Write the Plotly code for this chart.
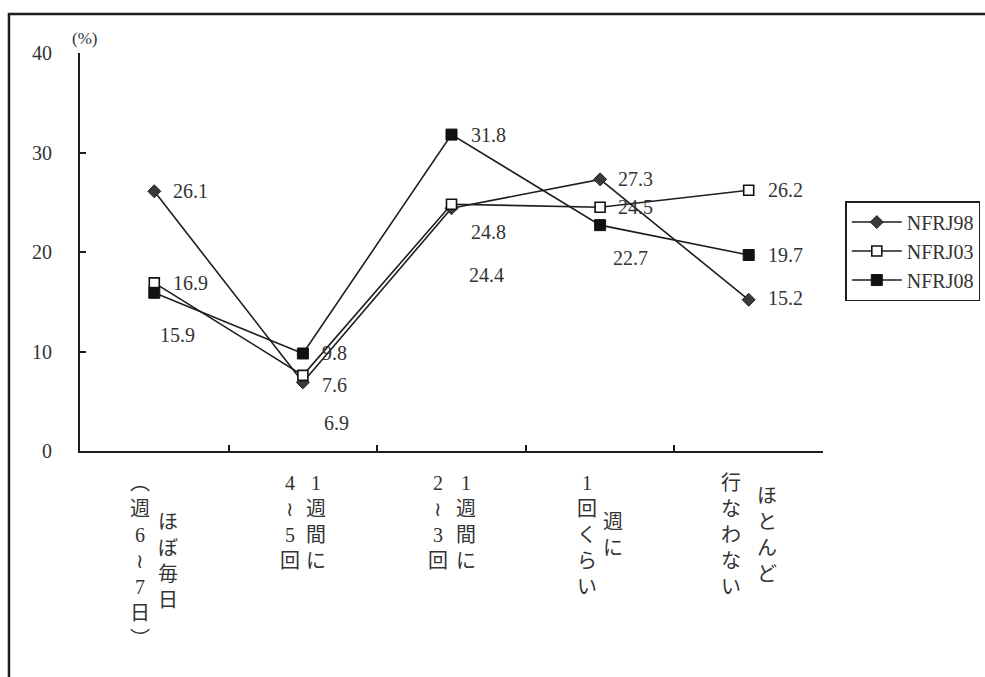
import plotly.graph_objects as go

# Frequency categories (x axis) and the two vertical text columns for each label
categories = ["ほぼ毎日（週6～7日）", "1週間に4～5回", "1週間に2～3回", "週に1回くらい", "ほとんど行なわない"]
label_right_cols = ["ほぼ毎日", "1週間に", "1週間に", "週に", "ほとんど"]
label_left_cols = ["︵週6≀7日︶", "4≀5回", "2≀3回", "1回くらい", "行なわない"]

series_names = ["NFRJ98", "NFRJ03", "NFRJ08"]
nfrj98 = [26.1, 6.9, 24.4, 27.3, 15.2]
nfrj03 = [16.9, 7.6, 24.8, 24.5, 26.2]
nfrj08 = [15.9, 9.8, 31.8, 22.7, 19.7]

y_ticks = [0, 10, 20, 30, 40]

FONT = "'Liberation Serif', 'Times New Roman', 'DejaVu Serif', 'Noto Sans CJK JP', serif"
INK = "#1e1e1e"
TXT = "#333333"

styles = {
    "NFRJ98": dict(symbol="diamond", size=10, color="#3a3a3a", line=dict(color="#222", width=1)),
    "NFRJ03": dict(symbol="square", size=10, color="white", line=dict(color="#111", width=1.6)),
    "NFRJ08": dict(symbol="square", size=11, color="#111", line=dict(color="#111", width=1)),
}

# pixel offsets of each value label from its point (x right, y up)
label_offsets = {
    "NFRJ98": [(17, 0), (19, -41), (15, -67), (16, 0), (17, 2)],
    "NFRJ03": [(17, 0), (17, -10), (17, -28), (16, 0), (17, 0)],
    "NFRJ08": [(4, -42), (17, 0), (17, 0), (11, -33), (17, 0)],
}

fig = go.Figure()
annotations = []
for name, vals in zip(series_names, [nfrj98, nfrj03, nfrj08]):
    fig.add_trace(go.Scatter(
        x=categories, y=vals, name=name, mode="lines+markers",
        line=dict(color=INK, width=1.6),
        marker=styles[name],
    ))
    for cat, v, (dx, dy) in zip(categories, vals, label_offsets[name]):
        annotations.append(dict(
            x=cat, y=v, xref="x", yref="y", text=f"{v:.1f}", showarrow=False,
            xanchor="left", yanchor="middle", xshift=dx, yshift=dy,
            font=dict(family=FONT, size=20, color=TXT),
        ))

# vertical category labels, two columns each, read right to left
PITCH = 26
col_gap = [14, 13, 14, 13, 18]
for i, cat in enumerate(categories):
    right, left = label_right_cols[i], label_left_cols[i]
    block = max(len(right), len(left)) * PITCH
    for col, sign in ((right, 1), (left, -1)):
        annotations.append(dict(
            x=cat, y=0, xref="x", yref="paper", text="<br>".join(col), showarrow=False,
            xanchor="center", yanchor="middle", xshift=sign * col_gap[i],
            yshift=-(19 + block / 2),
            font=dict(family=FONT, size=20, color=TXT),
        ))

annotations.append(dict(
    x=0, y=1, xref="paper", yref="paper", text="(%)", showarrow=False,
    xanchor="center", yanchor="middle", xshift=4, yshift=15,
    font=dict(family=FONT, size=17, color=TXT),
))

fig.update_layout(
    width=985, height=677,
    margin=dict(l=80, r=162, t=53, b=226, autoexpand=False),
    paper_bgcolor="white", plot_bgcolor="white",
    font=dict(family=FONT, size=20, color=TXT),
    showlegend=True,
    legend=dict(
        x=1.03, y=0.628, xanchor="left", yanchor="top",
        bgcolor="white", bordercolor=INK, borderwidth=1.5,
        font=dict(family=FONT, size=20, color=TXT),
        itemwidth=50, tracegroupgap=0,
    ),
    xaxis=dict(
        type="category", range=[-0.5, 4.5], showticklabels=False,
        showline=True, linecolor=INK, linewidth=2,
        ticks="inside", tickson="boundaries", ticklen=6, tickwidth=2, tickcolor=INK,
        showgrid=False, zeroline=False,
    ),
    yaxis=dict(
        range=[0, 40], tickvals=y_ticks, showline=True, linecolor=INK, linewidth=2,
        ticks="inside", ticklen=6, tickwidth=2, tickcolor=INK,
        showgrid=False, zeroline=False, ticklabelstandoff=22,
        tickfont=dict(family=FONT, size=20, color=TXT),
    ),
    annotations=annotations,
    shapes=[dict(
        type="rect", xref="paper", yref="paper",
        x0=-0.0956, x1=1.3, y0=-0.7, y1=1.098,
        line=dict(color=INK, width=2.5), fillcolor="rgba(0,0,0,0)", layer="below",
    )],
)

fig.write_html("out.html")
